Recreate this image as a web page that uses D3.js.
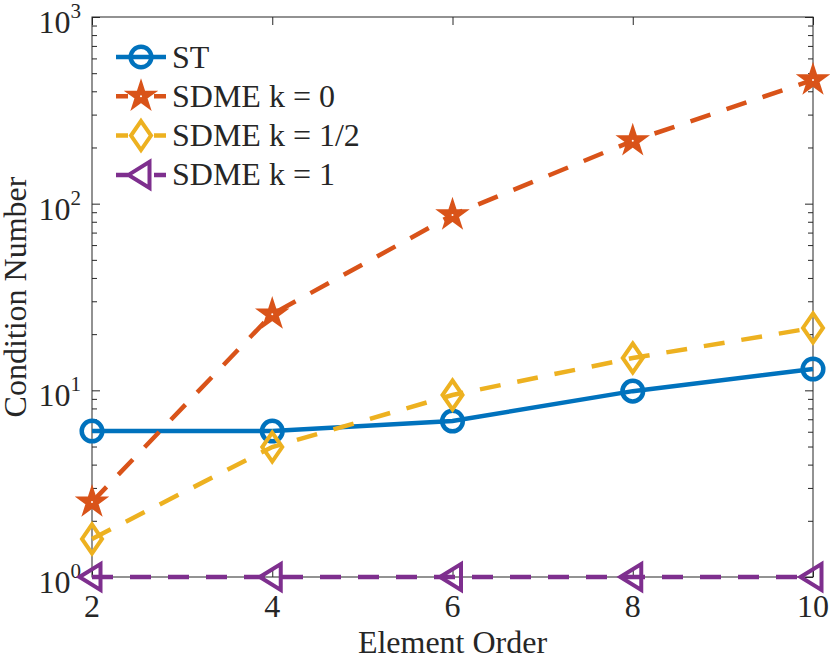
<!DOCTYPE html>
<html lang="en">
<head>
<meta charset="utf-8">
<title>Condition Number</title>
<script src="https://d3js.org/d3.v7.min.js"></script>
<style>body{margin:0;background:#fff}</style>
</head>
<body>
<script>
var w = 830, h = 658;
var margin = {top: 17, right: 17, bottom: 81, left: 92};
var innerWidth = w - margin.left - margin.right;
var innerHeight = h - margin.top - margin.bottom;

// data
var orders = [2, 4, 6, 8, 10];
var st = [6.05, 6.05, 6.85, 9.9, 13.0];
var sdme0 = [2.52, 25.6, 87, 217, 460];
var sdmeHalf = [1.6, 4.97, 9.44, 14.9, 21.6];
var sdme1 = [1, 1, 1, 1, 1];
var seriesNames = ["ST", "SDME k = 0", "SDME k = 1/2", "SDME k = 1"];
var xTicks = [2, 4, 6, 8, 10];
var yTicks = [1, 10, 100, 1000];
var yExps = ["0", "1", "2", "3"];

var colors = ["#0072BD", "#D95319", "#EDB120", "#7E2F8E"];
var font = "'Liberation Serif', 'Times New Roman', serif";
var ink = "#262626";

var series = [
  {name: seriesNames[0], values: st, color: colors[0], dash: null, marker: "circle"},
  {name: seriesNames[1], values: sdme0, color: colors[1], dash: "21,17", marker: "star"},
  {name: seriesNames[2], values: sdmeHalf, color: colors[2], dash: "21,17", marker: "diamond"},
  {name: seriesNames[3], values: sdme1, color: colors[3], dash: "21,17", marker: "triangle"}
];

var svg = d3.select("body").append("svg")
    .attr("width", w)
    .attr("height", h)
    .style("display", "block");

svg.append("rect").attr("width", w).attr("height", h).attr("fill", "white");

var xScale = d3.scaleLinear().domain([2, 10]).range([0, innerWidth]);
var yScale = d3.scaleLog().domain([1, 1000]).range([innerHeight, 0]);

var minorTicks = [];
[1, 10, 100].forEach(function(d) {
  for (var m = 2; m <= 9; m++) minorTicks.push(d * m);
});

var g = svg.append("g")
    .attr("transform", `translate(${margin.left}, ${margin.top})`);

// axes, ticks pointing inward on all four sides
function styleAxis(sel) {
  sel.select(".domain").remove();
  sel.selectAll("line").attr("stroke", ink).attr("stroke-width", 1);
  sel.selectAll("text").remove();
}

g.append("g").attr("transform", `translate(0, ${innerHeight})`)
    .call(d3.axisBottom(xScale).tickValues(xTicks).tickSize(-8)).call(styleAxis);
g.append("g")
    .call(d3.axisTop(xScale).tickValues(xTicks).tickSize(-8)).call(styleAxis);
g.append("g")
    .call(d3.axisLeft(yScale).tickValues(yTicks).tickSize(-8)).call(styleAxis);
g.append("g")
    .call(d3.axisLeft(yScale).tickValues(minorTicks).tickSize(-5)).call(styleAxis);
g.append("g").attr("transform", `translate(${innerWidth}, 0)`)
    .call(d3.axisRight(yScale).tickValues(yTicks).tickSize(-8)).call(styleAxis);
g.append("g").attr("transform", `translate(${innerWidth}, 0)`)
    .call(d3.axisRight(yScale).tickValues(minorTicks).tickSize(-5)).call(styleAxis);

g.append("rect")
    .attr("x", 0).attr("y", 0)
    .attr("width", innerWidth).attr("height", innerHeight)
    .attr("fill", "none").attr("stroke", ink).attr("stroke-width", 1);

// tick labels
g.selectAll(".xlab").data(xTicks).enter().append("text")
    .attr("x", function(d) { return xScale(d); })
    .attr("y", innerHeight + 40)
    .attr("text-anchor", "middle")
    .attr("font-family", font).attr("font-size", 32).attr("fill", ink)
    .text(function(d) { return d; });

var ylab = g.selectAll(".ylab").data(yTicks).enter().append("text")
    .attr("x", -11)
    .attr("y", function(d) { return yScale(d) + 16; })
    .attr("text-anchor", "end")
    .attr("font-family", font).attr("font-size", 32).attr("fill", ink);
ylab.append("tspan").text("10");
ylab.append("tspan")
    .attr("font-size", 21)
    .attr("dy", -15)
    .text(function(d, i) { return yExps[i]; });

// axis titles
svg.append("text")
    .attr("x", margin.left + innerWidth / 2)
    .attr("y", 653)
    .attr("text-anchor", "middle")
    .attr("font-family", font).attr("font-size", 32).attr("fill", ink)
    .text("Element Order");

svg.append("text")
    .attr("transform", `translate(26, ${margin.top + innerHeight / 2}) rotate(-90)`)
    .attr("text-anchor", "middle")
    .attr("font-family", font).attr("font-size", 32).attr("fill", ink)
    .text("Condition Number");

// markers
function drawMarker(sel, type, color) {
  if (type === "circle") {
    sel.append("circle").attr("r", 10.3)
        .attr("fill", "none").attr("stroke", color).attr("stroke-width", 4.5);
  } else if (type === "star") {
    sel.append("path").attr("d", d3.symbol(d3.symbolStar, 250)())
        .attr("fill", color).attr("stroke", color).attr("stroke-width", 2)
        .attr("stroke-linejoin", "miter");
    sel.append("circle").attr("r", 1).attr("fill", "white");
  } else if (type === "diamond") {
    sel.append("path").attr("d", "M0,-14.5L10,0L0,14.5L-10,0Z")
        .attr("fill", "none").attr("stroke", color).attr("stroke-width", 4);
  } else {
    sel.append("path").attr("d", "M-12.5,0L8.5,-13L8.5,13Z")
        .attr("fill", "none").attr("stroke", color).attr("stroke-width", 4);
  }
}

var line = d3.line()
    .x(function(d) { return xScale(d[0]); })
    .y(function(d) { return yScale(d[1]); });

series.forEach(function(s) {
  var pts = orders.map(function(o, i) { return [o, s.values[i]]; });
  g.append("path")
      .datum(pts)
      .attr("d", line)
      .attr("fill", "none")
      .attr("stroke", s.color)
      .attr("stroke-width", 4.5)
      .attr("stroke-dasharray", s.dash);
  g.selectAll(null).data(pts).enter().append("g")
      .attr("transform", function(d) { return `translate(${xScale(d[0])}, ${yScale(d[1])})`; })
      .each(function() { drawMarker(d3.select(this), s.marker, s.color); });
});

// legend, no box
var legend = svg.append("g");
series.forEach(function(s, i) {
  var row = legend.append("g").attr("transform", `translate(0, ${57 + i * 39.3})`);
  row.append("line")
      .attr("x1", 116).attr("x2", 166).attr("y1", 0).attr("y2", 0)
      .attr("stroke", s.color).attr("stroke-width", 4.5)
      .attr("stroke-dasharray", s.dash ? "12,26,12" : null);
  drawMarker(row.append("g").attr("transform", "translate(141, 0)"), s.marker, s.color);
  row.append("text")
      .attr("x", 172).attr("y", 10.5)
      .attr("font-family", font).attr("font-size", 32).attr("fill", ink)
      .text(s.name);
});
</script>
</body>
</html>
